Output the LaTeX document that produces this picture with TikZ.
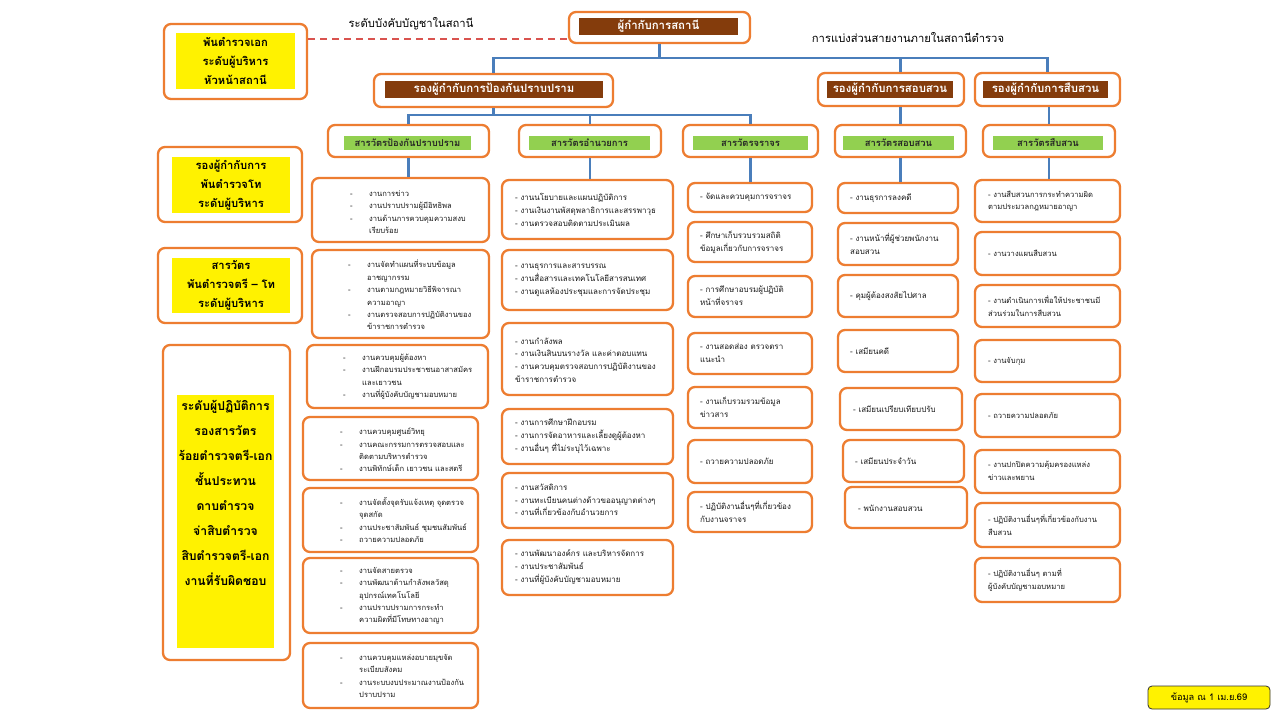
\documentclass[tikz,border=0pt]{standalone}
\usepackage{fontspec}
\setmainfont[Script=Thai]{Loma}
\definecolor{orangeC}{HTML}{ED7D31}
\definecolor{brownC}{HTML}{843C0C}
\definecolor{greenC}{HTML}{92D050}
\definecolor{blueC}{HTML}{4A7EBB}
\definecolor{redC}{HTML}{D9534F}
\newcommand\obx[6][]{\node[obox,#1,minimum width={#5-#3},minimum height={#6-#4}] (#2) at ({(#3+#5)/2},{(#4+#6)/2}) {};}
\newcommand\lab[7][]{\node[#1,minimum width={#5-#3},minimum height={#6-#4}] (#2) at ({(#3+#5)/2},{(#4+#6)/2}) {#7};}
\newcommand\txt[5][]{\node[itemtxt,#1] (#2) at (#3,#4) {#5};}
\newcommand\di[1]{\makebox[19pt][l]{-}#1}
\newcommand\dc[1]{\makebox[19pt][l]{}#1}
\tikzset{
  obox/.style={draw=orangeC, line width=2.3pt, rounded corners=7pt, fill=white, inner sep=0pt},
  brownlab/.style={fill=brownC, text=white, inner sep=0pt, font=\bfseries\fontsize{11.4}{13}\selectfont},
  greenlab/.style={fill=greenC, text=black!85, inner sep=0pt, font=\bfseries\fontsize{9.4}{11}\selectfont},
  ylab/.style={fill=yellow, inner sep=0pt, align=center, font=\bfseries\fontsize{11.2}{19}\selectfont},
  itemtxt/.style={anchor=west, align=left, inner sep=0pt, text=black!90, font=\fontsize{8}{12.8}\selectfont},
  smalltxt/.style={font=\fontsize{7.6}{12.4}\selectfont},
  conn/.style={draw=blueC, line width=2.6pt},
  redline/.style={draw=redC, line width=1.4pt, dash pattern=on 7pt off 5pt},
  plain/.style={inner sep=0pt, font=\fontsize{11.2}{13}\selectfont}
}
\begin{document}
\begin{tikzpicture}[x=1pt,y=-1pt]
\fill[white] (0,0) rectangle (1280,720);
\useasboundingbox (0,0) rectangle (1280,720);

% ---- left level boxes
\obx{L1}{164}{24}{307}{99}
\lab[ylab]{L1y}{176}{33}{295}{89}{พันตำรวจเอก\\ระดับผู้บริหาร\\หัวหน้าสถานี}
\obx{L2}{158}{147}{302}{222}
\lab[ylab]{L2y}{172}{157}{290}{213}{รองผู้กำกับการ\\พันตำรวจโท\\ระดับผู้บริหาร}
\obx{L3}{158}{248}{302}{323}
\lab[ylab]{L3y}{172}{258}{290}{313}{สารวัตร\\พันตำรวจตรี – โท\\ระดับผู้บริหาร}
\obx{L4}{163}{345}{290}{660}
\lab[fill=yellow]{L4y}{177}{395}{274}{648}{}
\node[anchor=north, align=center, inner sep=0pt, font=\bfseries\fontsize{12.2}{25}\selectfont] (L4t) at (225.5,400)
 {ระดับผู้ปฏิบัติการ\\รองสารวัตร\\ร้อยตำรวจตรี-เอก\\ชั้นประทวน\\ดาบตำรวจ\\จ่าสิบตำรวจ\\สิบตำรวจตรี-เอก\\งานที่รับผิดชอบ};

% ---- top
\obx{sup}{569}{12}{750}{43}
\lab[brownlab]{supl}{579}{18}{738}{35}{ผู้กำกับการสถานี}
\node[plain] (lbl1) at (411,24) {ระดับบังคับบัญชาในสถานี};
\node[plain] (lbl2) at (908,38) {การแบ่งส่วนสายงานภายในสถานีตำรวจ};

% ---- deputies
\obx{dp1}{374}{74}{613}{107}
\lab[brownlab]{dp1l}{385}{81}{603}{98}{รองผู้กำกับการป้องกันปราบปราม}
\obx{dp2}{818}{73}{964}{106}
\lab[brownlab]{dp2l}{827}{81}{953}{98}{รองผู้กำกับการสอบสวน}
\obx{dp3}{975}{73}{1120}{106}
\lab[brownlab]{dp3l}{983}{81}{1108}{98}{รองผู้กำกับการสืบสวน}

% ---- inspectors
\obx{h1}{328}{125}{489}{157}
\lab[greenlab]{h1l}{344}{136}{471}{150}{สารวัตรป้องกันปราบปราม}
\obx{h2}{519}{125}{661}{157}
\lab[greenlab]{h2l}{529}{136}{650}{150}{สารวัตรอำนวยการ}
\obx{h3}{683}{125}{818}{157}
\lab[greenlab]{h3l}{693}{136}{808}{150}{สารวัตรจราจร}
\obx{h4}{835}{125}{966}{157}
\lab[greenlab]{h4l}{843}{136}{954}{150}{สารวัตรสอบสวน}
\obx{h5}{983}{125}{1115}{157}
\lab[greenlab]{h5l}{993}{136}{1103}{150}{สารวัตรสืบสวน}

% ---- column 1
\obx{c1a}{312}{178}{489}{242}
\txt[smalltxt]{t1a}{350}{212}{\di{งานการข่าว}\\\di{งานปราบปรามผู้มีอิทธิพล}\\\di{งานด้านการควบคุมความสงบ}\\\dc{เรียบร้อย}}
\obx{c1b}{312}{250}{489}{338}
\txt[smalltxt]{t1b}{348}{295}{\di{งานจัดทำแผนที่ระบบข้อมูล}\\\dc{อาชญากรรม}\\\di{งานตามกฎหมายวิธีพิจารณา}\\\dc{ความอาญา}\\\di{งานตรวจสอบการปฏิบัติงานของ}\\\dc{ข้าราชการตำรวจ}}
\obx{c1c}{307}{345}{488}{408}
\txt[smalltxt]{t1c}{343}{377}{\di{งานควบคุมผู้ต้องหา}\\\di{งานฝึกอบรมประชาชนอาสาสมัคร}\\\dc{และเยาวชน}\\\di{งานที่ผู้บังคับบัญชามอบหมาย}}
\obx{c1d}{303}{417}{478}{480}
\txt[smalltxt]{t1d}{340}{450}{\di{งานควบคุมศูนย์วิทยุ}\\\di{งานคณะกรรมการตรวจสอบและ}\\\dc{ติดตามบริหารตำรวจ}\\\di{งานพิทักษ์เด็ก เยาวชน และสตรี}}
\obx{c1e}{303}{488}{478}{552}
\txt[smalltxt]{t1e}{340}{520}{\di{งานจัดตั้งจุดรับแจ้งเหตุ จุดตรวจ}\\\dc{จุดสกัด}\\\di{งานประชาสัมพันธ์ ชุมชนสัมพันธ์}\\\di{ถวายความปลอดภัย}}
\obx{c1f}{303}{558}{478}{633}
\txt[smalltxt]{t1f}{340}{596}{\di{งานจัดสายตรวจ}\\\di{งานพัฒนาด้านกำลังพลวัสดุ}\\\dc{อุปกรณ์เทคโนโลยี}\\\di{งานปราบปรามการกระทำ}\\\dc{ความผิดที่มีโทษทางอาญา}}
\obx{c1g}{303}{643}{478}{708}
\txt[smalltxt]{t1g}{340}{676}{\di{งานควบคุมแหล่งอบายมุขจัด}\\\dc{ระเบียบสังคม}\\\di{งานระบบงบประมาณงานป้องกัน}\\\dc{ปราบปราม}}

% ---- column 2
\obx{c2a}{502}{180}{673}{239}
\txt{t2a}{515}{210}{- งานนโยบายและแผนปฏิบัติการ\\- งานเงินงานพัสดุพลาธิการและสรรพาวุธ\\- งานตรวจสอบติดตามประเมินผล}
\obx{c2b}{502}{250}{673}{310}
\txt{t2b}{515}{280}{- งานธุรการและสารบรรณ\\- งานสื่อสารและเทคโนโลยีสารสนเทศ\\- งานดูแลห้องประชุมและการจัดประชุม}
\obx{c2c}{502}{323}{673}{395}
\txt{t2c}{515}{360}{- งานกำลังพล\\- งานเงินสินบนรางวัล และค่าตอบแทน\\- งานควบคุมตรวจสอบการปฏิบัติงานของ\\ข้าราชการตำรวจ}
\obx{c2d}{502}{409}{673}{464}
\txt{t2d}{515}{436}{- งานการศึกษาฝึกอบรม\\- งานการจัดอาหารและเลี้ยงดูผู้ต้องหา\\- งานอื่นๆ ที่ไม่ระบุไว้เฉพาะ}
\obx{c2e}{502}{473}{673}{528}
\txt{t2e}{515}{500}{- งานสวัสดิการ\\- งานทะเบียนคนต่างด้าวขออนุญาตต่างๆ\\- งานที่เกี่ยวข้องกับอำนวยการ}
\obx{c2f}{502}{540}{673}{595}
\txt{t2f}{515}{567}{- งานพัฒนาองค์กร และบริหารจัดการ\\- งานประชาสัมพันธ์\\- งานที่ผู้บังคับบัญชามอบหมาย}

% ---- column 3
\obx{c3a}{688}{183}{812}{212}
\txt{t3a}{700}{197}{- จัดและควบคุมการจราจร}
\obx{c3b}{688}{222}{812}{262}
\txt{t3b}{700}{242}{- ศึกษาเก็บรวบรวมสถิติ\\ข้อมูลเกี่ยวกับการจราจร}
\obx{c3c}{688}{276}{812}{317}
\txt{t3c}{700}{296}{- การศึกษาอบรมผู้ปฏิบัติ\\หน้าที่จราจร}
\obx{c3d}{688}{333}{812}{374}
\txt{t3d}{700}{353}{- งานสอดส่อง ตรวจตรา\\แนะนำ}
\obx{c3e}{688}{387}{812}{428}
\txt{t3e}{700}{407}{- งานเก็บรวมรวมข้อมูล\\ข่าวสาร}
\obx{c3f}{688}{440}{812}{483}
\txt{t3f}{700}{461}{- ถวายความปลอดภัย}
\obx{c3g}{688}{492}{812}{532}
\txt{t3g}{700}{512}{- ปฏิบัติงานอื่นๆที่เกี่ยวข้อง\\กับงานจราจร}

% ---- column 4
\obx{c4a}{838}{183}{958}{213}
\txt{t4a}{850}{198}{- งานธุรการลงคดี}
\obx{c4b}{838}{223}{958}{265}
\txt{t4b}{850}{244}{- งานหน้าที่ผู้ช่วยพนักงาน\\สอบสวน}
\obx{c4c}{838}{275}{958}{317}
\txt{t4c}{850}{296}{- คุมผู้ต้องสงสัยไปศาล}
\obx{c4d}{838}{330}{958}{372}
\txt{t4d}{850}{351}{- เสมียนคดี}
\obx{c4e}{840}{388}{962}{430}
\txt{t4e}{853}{409}{- เสมียนเปรียบเทียบปรับ}
\obx{c4f}{843}{440}{964}{482}
\txt{t4f}{855}{461}{- เสมียนประจำวัน}
\obx{c4g}{845}{487}{967}{528}
\txt{t4g}{858}{508}{- พนักงานสอบสวน}

% ---- column 5
\obx{c5a}{975}{180}{1120}{222}
\txt[smalltxt]{t5a}{988}{201}{- งานสืบสวนการกระทำความผิด\\ตามประมวลกฎหมายอาญา}
\obx{c5b}{975}{232}{1120}{275}
\txt[smalltxt]{t5b}{988}{253}{- งานวางแผนสืบสวน}
\obx{c5c}{975}{285}{1120}{327}
\txt[smalltxt]{t5c}{988}{306}{- งานดำเนินการเพื่อให้ประชาชนมี\\ส่วนร่วมในการสืบสวน}
\obx{c5d}{975}{340}{1120}{382}
\txt[smalltxt]{t5d}{988}{361}{- งานจับกุม}
\obx{c5e}{975}{394}{1120}{437}
\txt[smalltxt]{t5e}{988}{415}{- ถวายความปลอดภัย}
\obx{c5f}{975}{450}{1120}{493}
\txt[smalltxt]{t5f}{988}{471}{- งานปกปิดความคุ้มครองแหล่ง\\ข่าวและพยาน}
\obx{c5g}{975}{503}{1120}{547}
\txt[smalltxt]{t5g}{988}{525}{- ปฏิบัติงานอื่นๆที่เกี่ยวข้องกับงาน\\สืบสวน}
\obx{c5h}{975}{558}{1120}{602}
\txt[smalltxt]{t5h}{988}{580}{- ปฏิบัติงานอื่นๆ ตามที่\\ผู้บังคับบัญชามอบหมาย}

% ---- footer
\node[draw=black!80, fill=yellow, line width=0.8pt, rounded corners=4pt, minimum width=122pt, minimum height=23pt, inner sep=0pt, font=\fontsize{9.2}{11}\selectfont] (note) at (1209,697.5) {ข้อมูล ณ 1 เม.ย.69};

% ---- connectors
\coordinate (bus1) at (660,58);
\coordinate (bus2) at (495,115);
\coordinate (dl) at (500,39);
\draw[redline] (L1.east |- dl) -- (sup.west |- dl);
\draw[conn] (sup.south) -- (sup.south |- bus1);
\draw[conn] (dp1.north) -- (dp1.north |- bus1) -- (dp3.north |- bus1) -- (dp3.north);
\draw[conn] (dp2.north -| h4.north) -- (h4.north |- bus1);
\draw[conn] (dp1.south) -- (dp1.south |- bus2);
\draw[conn] (h1.north) -- (h1.north |- bus2) -- (h3.north |- bus2) -- (h3.north);
\draw[conn] (h2.north) -- (h2.north |- bus2);
\draw[conn] (h4.north) -- (h4.north |- dp2.south);
\draw[conn] (h5.north) -- (h5.north |- dp3.south);
\draw[conn] (h1.south) -- (h1.south |- c1a.north);
\draw[conn] (h2.south) -- (h2.south |- c2a.north);
\draw[conn] (h3.south) -- (h3.south |- c3a.north);
\draw[conn] (h4.south) -- (h4.south |- c4a.north);
\draw[conn] (h5.south) -- (h5.south |- c5a.north);
\end{tikzpicture}
\end{document}
